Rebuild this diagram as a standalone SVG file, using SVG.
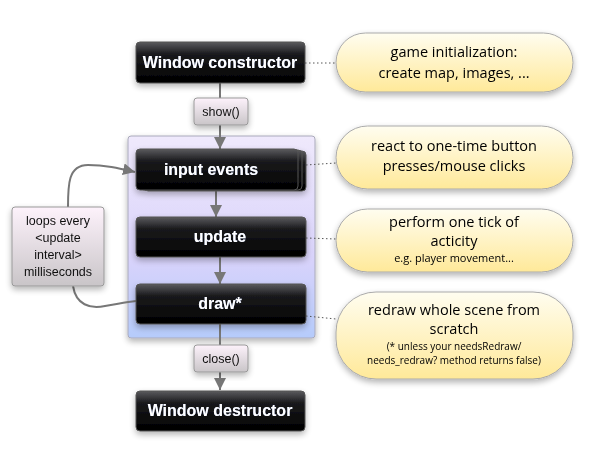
<svg xmlns="http://www.w3.org/2000/svg" width="609" height="472" viewBox="0 0 609 472">
<style>
.node rect{stroke:#555;stroke-width:1;fill:url(#gBlack)}
.ntext{font-family:"Liberation Sans",Arial,sans-serif;font-weight:bold;font-size:16px;fill:#fff;text-anchor:middle}
.lbl rect{fill:url(#gLabel);stroke:#999;stroke-width:1}
.ltext{font-family:"Liberation Sans",Arial,sans-serif;font-size:12.5px;fill:#111;text-anchor:middle}
.bub rect{fill:url(#gYellow);stroke:#aaa;stroke-width:1}
.btext{font-family:"Open Sans","DejaVu Sans",sans-serif;font-size:14.5px;fill:#000;text-anchor:middle}
.bsmall{font-family:"Open Sans","DejaVu Sans",sans-serif;font-size:11px;fill:#000;text-anchor:middle}
.bsmall2{font-family:"Open Sans","DejaVu Sans",sans-serif;font-size:10px;fill:#000;text-anchor:middle}
.conn{stroke:#777;stroke-width:2;fill:none}
.dot{stroke:#555;stroke-width:1;stroke-dasharray:1.5 2.5;fill:none}
</style>
<defs>
<linearGradient id="gBlack" x1="0" y1="0" x2="0" y2="1">
<stop offset="0" stop-color="#5a5a5e"/><stop offset="0.3" stop-color="#1a1a1c"/><stop offset="1" stop-color="#000"/>
</linearGradient>
<linearGradient id="gLabel" x1="0" y1="0" x2="0" y2="1">
<stop offset="0" stop-color="#fdf2fb"/><stop offset="1" stop-color="#c9c5c8"/>
</linearGradient>
<linearGradient id="gYellow" x1="0" y1="0" x2="0" y2="1">
<stop offset="0" stop-color="#fffdf0"/><stop offset="1" stop-color="#ffe999"/>
</linearGradient>
<linearGradient id="gCont" x1="0" y1="0" x2="0" y2="1">
<stop offset="0" stop-color="#efe9fc"/><stop offset="0.6" stop-color="#d9d3fb"/><stop offset="1" stop-color="#b5cbfb"/>
</linearGradient>
<filter id="sh" x="-20%" y="-20%" width="140%" height="150%">
<feGaussianBlur in="SourceAlpha" stdDeviation="3"/><feOffset dx="0" dy="3" result="b"/>
<feComponentTransfer><feFuncA type="linear" slope="0.3"/></feComponentTransfer>
<feMerge><feMergeNode/><feMergeNode in="SourceGraphic"/></feMerge>
</filter>
<filter id="glow" x="-10%" y="-30%" width="120%" height="160%">
<feGaussianBlur in="SourceAlpha" stdDeviation="0.8"/><feFlood flood-color="#6aa0ff" flood-opacity="0.7"/><feComposite operator="in" in2="SourceAlpha"/>
<feGaussianBlur stdDeviation="0.7"/>
<feMerge><feMergeNode/><feMergeNode in="SourceGraphic"/></feMerge>
</filter>
<marker id="arr" viewBox="0 0 10 10" refX="10" refY="5" markerWidth="6" markerHeight="6" markerUnits="strokeWidth" orient="auto">
<path d="M0,0 L10,5 L0,10 z" fill="#777"/>
</marker>
</defs>
<rect width="609" height="472" fill="#fff"/>

<g id="container" filter="url(#sh)">
<rect x="128" y="136" width="187" height="202" rx="3" fill="url(#gCont)" stroke="#aab" stroke-width="1"/>
</g>

<g id="connectors">
<line class="conn" x1="220" y1="83" x2="220" y2="98"/>
<line class="conn" x1="220" y1="125" x2="220" y2="149" marker-end="url(#arr)"/>
<line class="conn" x1="216" y1="191" x2="216" y2="217" marker-end="url(#arr)"/>
<line class="conn" x1="220" y1="257" x2="220" y2="284" marker-end="url(#arr)"/>
<line class="conn" x1="220" y1="324" x2="220" y2="345"/>
<line class="conn" x1="220" y1="372" x2="220" y2="390" marker-end="url(#arr)"/>
<path class="conn" d="M68,207 C68,185 68,165 88,165 C105,165 118,168 135,172" marker-end="url(#arr)"/>
<path class="conn" d="M73,286 C76,305 90,309 105,306 C118,304 125,302 136,301"/>
<line class="dot" x1="305" y1="63" x2="336" y2="63"/>
<line class="dot" x1="306" y1="165" x2="336" y2="163"/>
<line class="dot" x1="306" y1="238" x2="336" y2="239"/>
<line class="dot" x1="306" y1="316" x2="336" y2="319"/>
</g>

<g id="window-constructor" class="node" filter="url(#sh)">
<rect x="136" y="42" width="169" height="41" rx="4"/>
<text class="ntext" x="220" y="68" filter="url(#glow)">Window constructor</text>
</g>

<g id="show" class="lbl" filter="url(#sh)">
<rect x="194" y="98" width="54" height="27" rx="3"/>
<text class="ltext" x="221" y="116">show()</text>
</g>

<g id="input-events" class="node" filter="url(#sh)">
<rect x="144" y="151" width="162" height="40" rx="4"/>
<rect x="140" y="150" width="162" height="40" rx="4"/>
<rect x="136" y="149" width="162" height="41" rx="4"/>
<text class="ntext" x="211" y="175" filter="url(#glow)">input events</text>
</g>

<g id="update" class="node" filter="url(#sh)">
<rect x="136" y="217" width="170" height="40" rx="4"/>
<text class="ntext" x="220" y="242" filter="url(#glow)">update</text>
</g>

<g id="draw" class="node" filter="url(#sh)">
<rect x="136" y="284" width="170" height="40" rx="4"/>
<text class="ntext" x="220" y="309" filter="url(#glow)">draw*</text>
</g>

<g id="close" class="lbl" filter="url(#sh)">
<rect x="194" y="345" width="54" height="27" rx="3"/>
<text class="ltext" x="221" y="363">close()</text>
</g>

<g id="window-destructor" class="node" filter="url(#sh)">
<rect x="136" y="391" width="169" height="40" rx="4"/>
<text class="ntext" x="220" y="416" filter="url(#glow)">Window destructor</text>
</g>

<g id="loop-label" class="lbl" filter="url(#sh)">
<rect x="12" y="207" width="92" height="79" rx="3"/>
<text class="ltext" x="58" y="225">loops every</text>
<text class="ltext" x="58" y="242">&lt;update</text>
<text class="ltext" x="58" y="259">interval&gt;</text>
<text class="ltext" x="58" y="276">milliseconds</text>
</g>

<g id="note-init" class="bub" filter="url(#sh)">
<rect x="336" y="33" width="237" height="59" rx="29.5"/>
<text class="btext" x="454" y="57">game initialization:</text>
<text class="btext" x="454" y="78">create map, images, ...</text>
</g>

<g id="note-input" class="bub" filter="url(#sh)">
<rect x="336" y="126" width="237" height="63" rx="31.5"/>
<text class="btext" x="454" y="151">react to one-time button</text>
<text class="btext" x="454" y="171">presses/mouse clicks</text>
</g>

<g id="note-update" class="bub" filter="url(#sh)">
<rect x="336" y="209" width="237" height="63" rx="31.5"/>
<text class="btext" x="454" y="227">perform one tick of</text>
<text class="btext" x="454" y="246">acticity</text>
<text class="bsmall" x="454" y="262">e.g. player movement...</text>
</g>

<g id="note-draw" class="bub" filter="url(#sh)">
<rect x="336" y="292" width="237" height="87" rx="40"/>
<text class="btext" x="454" y="315">redraw whole scene from</text>
<text class="btext" x="454" y="334">scratch</text>
<text class="bsmall2" x="454" y="350">(* unless your needsRedraw/</text>
<text class="bsmall2" x="454" y="364">needs_redraw? method returns false)</text>
</g>
</svg>
